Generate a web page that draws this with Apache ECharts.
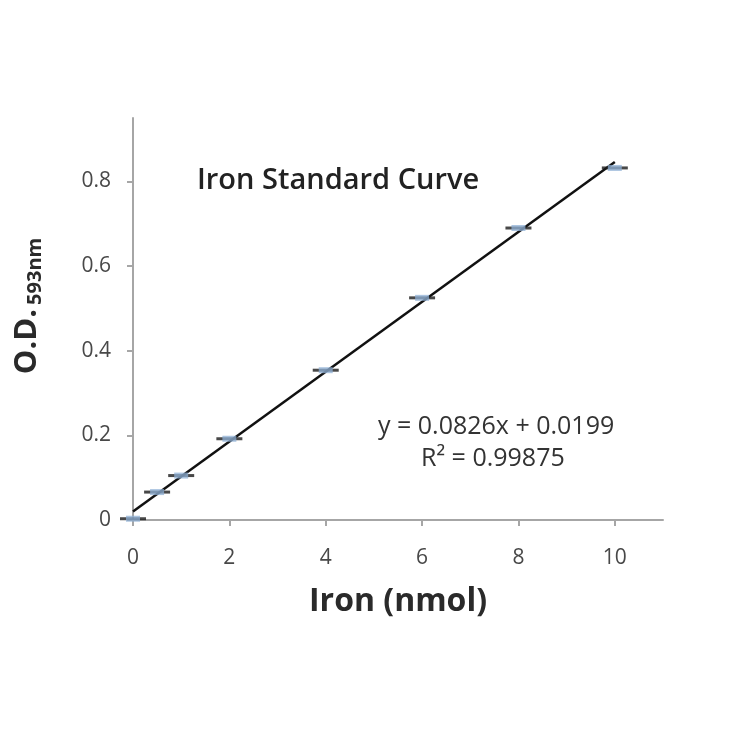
<!DOCTYPE html>
<html>
<head>
<meta charset="utf-8">
<script src="https://cdn.jsdelivr.net/npm/echarts@6/dist/echarts.min.js"></script>
<style>
  html, body { margin: 0; padding: 0; background: #fff; }
  #chart { width: 730px; height: 730px; }
</style>
</head>
<body>
<div id="chart"></div>
<script>
// data
const ironNmol = [0, 0.5, 1, 2, 4, 6, 8, 10]
const odValues = [0.003, 0.066, 0.105, 0.192, 0.354, 0.525, 0.69, 0.832]
const slope = 0.0826
const intercept = 0.0199
const xTicks = [0, 2, 4, 6, 8, 10]
const yTicks = [0, 0.2, 0.4, 0.6, 0.8]

const fitLine = [
  [ironNmol[0], slope * ironNmol[0] + intercept],
  [ironNmol[ironNmol.length - 1], slope * ironNmol[ironNmol.length - 1] + intercept]
]
const points = ironNmol.map((x, i) => [x, odValues[i]])

const axisGray = '#a6a6a6'
const labelGray = '#484848'

const chart = echarts.init(document.getElementById('chart'))
chart.setOption({
  backgroundColor: '#fff',
  animation: false,
  grid: { left: 133, right: 67, top: 118, bottom: 210 },
  title: {
    text: 'Iron Standard Curve',
    left: 192, top: 161,
    textStyle: { fontFamily: 'Open Sans', fontSize: 29, fontWeight: 600, color: '#222' }
  },
  xAxis: {
    type: 'value', min: 0, max: 11, interval: 2,
    name: 'Iron (nmol)', nameLocation: 'middle', nameGap: 66,
    nameTextStyle: { fontFamily: 'Open Sans', fontSize: 32, fontWeight: 'bold', color: '#2a2a2a' },
    axisLine: { lineStyle: { color: axisGray, width: 2 } },
    axisTick: { show: true, length: 6, lineStyle: { color: axisGray, width: 2 }, customValues: xTicks },
    axisLabel: { fontFamily: 'Open Sans', fontSize: 21, color: labelGray, margin: 28, customValues: xTicks },
    splitLine: { show: false }
  },
  yAxis: {
    type: 'value', min: 0, max: 0.95, interval: 0.2,
    name: '{a|O.D.}{b|593nm}', nameLocation: 'middle', nameGap: 88, nameRotate: 90,
    nameTextStyle: {
      padding: [0, 0, 0, 26],
      rich: {
        a: { fontFamily: 'Open Sans', fontSize: 31, fontWeight: 'bold', color: '#2a2a2a' },
        b: { fontFamily: 'Open Sans', fontSize: 20, fontWeight: 'bold', color: '#2a2a2a', padding: [16, 0, 0, 4] }
      }
    },
    axisLine: { show: true, lineStyle: { color: axisGray, width: 2 } },
    axisTick: { show: true, length: 6, lineStyle: { color: axisGray, width: 2 }, customValues: yTicks },
    axisLabel: {
      fontFamily: 'Open Sans', fontSize: 21, color: labelGray, margin: 22,
      customValues: yTicks,
      formatter: v => (v === 0 ? '0' : v.toFixed(1))
    },
    splitLine: { show: false }
  },
  series: [
    {
      type: 'line', data: fitLine, symbol: 'none',
      lineStyle: { color: '#111', width: 2.5 }, z: 3
    },
    {
      type: 'scatter', data: points, symbol: 'rect', symbolSize: [26, 3],
      itemStyle: { color: '#1a1a1a' }, z: 4
    },
    {
      type: 'scatter', data: points, symbol: 'rect', symbolSize: [14, 6],
      itemStyle: { color: '#8fb0d6', opacity: 0.75 }, z: 5
    }
  ],
  graphic: [
    {
      type: 'text', left: 378, top: 414,
      style: { text: 'y = 0.0826x + 0.0199', fontFamily: 'Open Sans', fontSize: 25, fill: '#333' }
    },
    {
      type: 'text', left: 421, top: 446,
      style: { text: 'R² = 0.99875', fontFamily: 'Open Sans', fontSize: 25, fill: '#333' }
    }
  ]
})
</script>
</body>
</html>
